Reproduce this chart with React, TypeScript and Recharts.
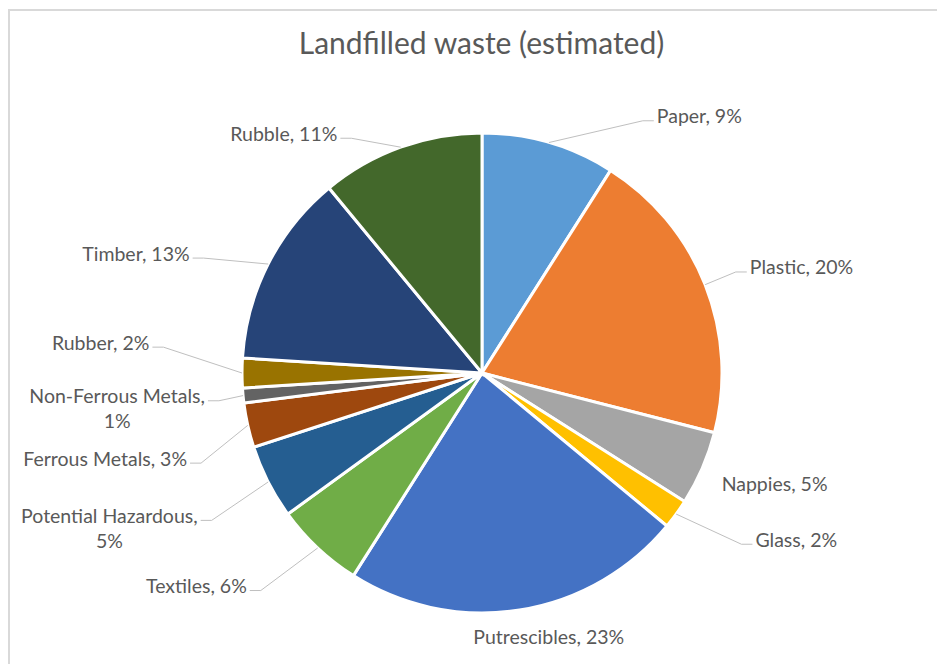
import { PieChart, Pie, Cell } from 'recharts'

const categories = [
  'Paper', 'Plastic', 'Nappies', 'Glass', 'Putrescibles', 'Textiles',
  'Potential Hazardous', 'Ferrous Metals', 'Non-Ferrous Metals', 'Rubber', 'Timber', 'Rubble',
]
const shares = [9, 20, 5, 2, 23, 6, 5, 3, 1, 2, 13, 11]
const colors = [
  '#5B9BD5', '#ED7D31', '#A5A5A5', '#FFC000', '#4472C4', '#70AD47',
  '#255E91', '#9E480E', '#636363', '#997300', '#264478', '#43682B',
]

// label placement relative to each slice: distance past the rim, and clockwise nudge in degrees
const labelExtra = [71, 48, 24, 80, 32, 77, 78, 67, 38, 94, 76, 40]
const labelShift = [18, 0, 1.4, -4.7, -5.2, 4.7, 0.4, -3.5, 0.7, 5.3, -4.7, -11.3]

const FONT = 'Lato, "Open Sans", sans-serif'
const LABEL_SIZE = 19.5
const TEXT_COLOR = '#595959'

const pieData = categories.map((name, i) => ({ name, value: shares[i] }))
const total = shares.reduce((a, b) => a + b, 0)

let ctx: CanvasRenderingContext2D | null = null
const measure = (s: string) => {
  if (!ctx) ctx = document.createElement('canvas').getContext('2d')
  if (!ctx) return s.length * LABEL_SIZE * 0.5
  ctx.font = `${LABEL_SIZE}px Lato`
  return ctx.measureText(s).width
}

const RAD = Math.PI / 180

const renderLabel = (props: any) => {
  const { cx, cy, midAngle, outerRadius, index } = props
  const angle = midAngle - labelShift[index]
  const r = outerRadius + labelExtra[index]
  const tx = cx + r * Math.cos(-angle * RAD)
  const ty = cy + r * Math.sin(-angle * RAD)
  const sx = cx + outerRadius * Math.cos(-midAngle * RAD)
  const sy = cy + outerRadius * Math.sin(-midAngle * RAD)
  const c = Math.cos(-angle * RAD)
  const side = Math.abs(c) < 0.3 ? 'middle' : c > 0 ? 'start' : 'end'

  const pct = Math.round((shares[index] / total) * 100)
  const full = `${categories[index]}, ${pct}%`
  const lines = full.length > 20 ? [`${categories[index]},`, `${pct}%`] : [full]

  let leader = null
  if (side !== 'middle' && labelExtra[index] > 30) {
    const dir = side === 'start' ? 1 : -1
    const ex = tx - dir * 3
    const ey = ty + 5
    const kx = ex - dir * 11
    leader = (
      <path d={`M${sx},${sy}L${kx},${ey}L${ex},${ey}`} stroke="#bfbfbf" strokeWidth={1} fill="none" />
    )
  }

  const w1 = measure(lines[0])
  const dir = side === 'start' ? 1 : side === 'end' ? -1 : 0
  return (
    <g key={`lbl-${index}`}>
      {leader}
      <text x={tx} y={ty} textAnchor={side} dominantBaseline="central"
        fill={TEXT_COLOR} fontSize={LABEL_SIZE} fontFamily={FONT}>
        {lines[0]}
      </text>
      {lines[1] && (
        <text x={tx + (dir * w1) / 2} y={ty + 25} textAnchor="middle" dominantBaseline="central"
          fill={TEXT_COLOR} fontSize={LABEL_SIZE} fontFamily={FONT}>
          {lines[1]}
        </text>
      )}
    </g>
  )
}

const App = () => {
  return (
    <div style={{ position: 'relative', width: 945, height: 672, margin: -8, overflow: 'hidden', background: '#fff' }}>
      <div style={{
        position: 'absolute', left: 8, top: 9, width: 945, height: 672,
        borderLeft: '2px solid #d9d9d9', borderTop: '2px solid #d9d9d9',
      }} />
      <div style={{
        position: 'absolute', left: 481.5, top: 24, transform: 'translateX(-50%)',
        whiteSpace: 'nowrap', fontFamily: FONT, fontSize: 30, color: TEXT_COLOR,
      }}>
        Landfilled waste (estimated)
      </div>
      <div style={{ position: 'absolute', left: 0, top: 0 }}>
        <PieChart width={945} height={672}>
          <Pie
            data={pieData}
            dataKey="value"
            nameKey="name"
            cx={477}
            cy={368}
            outerRadius={240}
            startAngle={90}
            endAngle={-270}
            stroke="#ffffff"
            strokeWidth={3}
            label={renderLabel}
            labelLine={false}
            isAnimationActive={false}
          >
            {pieData.map((d, i) => (
              <Cell key={d.name} fill={colors[i]} />
            ))}
          </Pie>
        </PieChart>
      </div>
    </div>
  )
}

export default App
